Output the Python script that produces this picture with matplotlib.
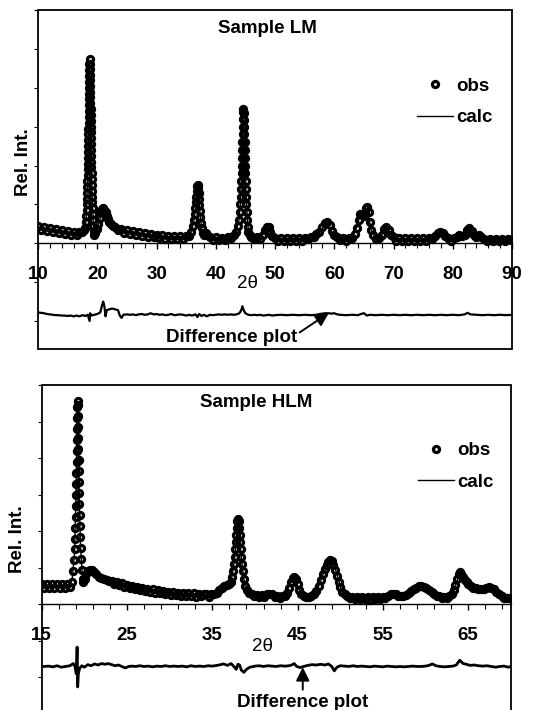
import matplotlib
matplotlib.use('Agg')
import matplotlib.pyplot as plt
from matplotlib.patches import Rectangle

plt.rcParams['font.family'] = ['Liberation Sans', 'DejaVu Sans']
plt.rcParams['font.weight'] = 'bold'

# ---------------- Sample LM ----------------
lm_xticks = [10, 20, 30, 40, 50, 60, 70, 80, 90]
lm_yticks = [-2, -1, 0, 1, 2, 3, 4, 5, 6]

lm_obs_x = [
    10.0, 10.5, 11.0, 11.5, 12.0, 12.5, 13.0, 13.5, 14.0, 14.5,
    15.0, 15.5, 16.0, 16.5, 17.0, 17.5, 17.8, 18.0, 18.1, 18.15,
    18.2, 18.24, 18.27, 18.3, 18.32, 18.34, 18.36, 18.38, 18.4, 18.42,
    18.44, 18.46, 18.48, 18.5, 18.51, 18.52, 18.54, 18.55, 18.56, 18.58,
    18.59, 18.6, 18.62, 18.63, 18.65, 18.67, 18.7, 18.73, 18.75, 18.77,
    18.79, 18.8, 18.82, 18.83, 18.85, 18.86, 18.88, 18.89, 18.9, 18.92,
    18.93, 18.95, 18.96, 18.98, 19.0, 19.02, 19.04, 19.06, 19.08, 19.1,
    19.13, 19.16, 19.2, 19.24, 19.28, 19.33, 19.4, 19.5, 19.7, 20.0,
    20.2, 20.4, 20.6, 20.8, 21.0, 21.2, 21.4, 21.6, 21.8, 22.0,
    22.3, 22.6, 23.0, 23.5, 24.0, 24.5, 25.0, 25.5, 26.0, 26.5,
    27.0, 27.5, 28.0, 28.5, 29.0, 29.5, 30.0, 30.5, 31.0, 31.5,
    32.0, 32.5, 33.0, 33.5, 34.0, 34.5, 35.0, 35.5, 35.9, 36.2,
    36.35, 36.45, 36.55, 36.62, 36.7, 36.78, 36.87, 36.95, 37.03, 37.1,
    37.17, 37.23, 37.3, 37.38, 37.47, 37.6, 37.8, 38.0, 38.3, 38.6,
    39.0, 39.5, 40.0, 40.5, 41.0, 41.5, 42.0, 42.5, 43.0, 43.4,
    43.7, 43.9, 44.05, 44.15, 44.22, 44.28, 44.33, 44.37, 44.41, 44.44,
    44.47, 44.5, 44.53, 44.56, 44.59, 44.63, 44.68, 44.73, 44.77, 44.8,
    44.83, 44.86, 44.89, 44.92, 44.95, 44.98, 45.02, 45.06, 45.1, 45.15,
    45.2, 45.28, 45.38, 45.5, 45.7, 46.0, 46.5, 47.0, 47.5, 48.0,
    48.3, 48.6, 48.9, 49.2, 49.5, 50.0, 50.5, 51.0, 51.5, 52.0,
    52.5, 53.0, 53.5, 54.0, 54.5, 55.0, 55.5, 56.0, 56.5, 57.0,
    57.5, 58.0, 58.4, 58.8, 59.2, 59.6, 60.0, 60.5, 61.0, 61.5,
    62.0, 62.5, 63.0, 63.5, 63.8, 64.1, 64.4, 64.7, 65.0, 65.2,
    65.4, 65.6, 65.8, 66.0, 66.2, 66.5, 67.0, 67.5, 68.0, 68.4,
    68.8, 69.2, 69.6, 70.0, 70.5, 71.0, 71.5, 72.0, 72.5, 73.0,
    73.5, 74.0, 74.5, 75.0, 75.5, 76.0, 76.5, 77.0, 77.5, 77.9,
    78.3, 78.7, 79.2, 79.7, 80.2, 80.7, 81.1, 81.5, 82.0, 82.4,
    82.8, 83.2, 83.6, 84.0, 84.4, 84.8, 85.3, 85.8, 86.3, 86.8,
    87.3, 87.8, 88.3, 88.8, 89.3, 89.8,
]
lm_obs_y = [
    0.45, 0.35, 0.43, 0.32, 0.39, 0.29, 0.36, 0.27, 0.34, 0.24,
    0.31, 0.22, 0.30, 0.21, 0.30, 0.28, 0.33, 0.40, 0.55, 0.70,
    0.85, 1.00, 1.15, 1.30, 1.45, 1.60, 1.75, 1.90, 2.05, 2.20,
    2.35, 2.50, 2.65, 2.80, 2.95, 3.10, 3.25, 3.40, 3.55, 3.70,
    3.85, 4.00, 4.15, 4.30, 4.45, 4.60, 4.74, 4.62, 4.48, 4.34,
    4.20, 4.05, 3.90, 3.75, 3.60, 3.45, 3.30, 3.15, 3.00, 2.85,
    2.70, 2.55, 2.40, 2.25, 2.10, 1.95, 1.80, 1.65, 1.50, 1.35,
    1.20, 1.05, 0.90, 0.75, 0.60, 0.45, 0.32, 0.22, 0.26, 0.36,
    0.50, 0.66, 0.80, 0.88, 0.90, 0.86, 0.80, 0.71, 0.62, 0.55,
    0.49, 0.44, 0.43, 0.33, 0.37, 0.27, 0.33, 0.24, 0.31, 0.22,
    0.28, 0.19, 0.26, 0.17, 0.25, 0.16, 0.22, 0.14, 0.21, 0.12,
    0.19, 0.11, 0.18, 0.10, 0.18, 0.10, 0.18, 0.18, 0.30, 0.45,
    0.60, 0.75, 0.90, 1.05, 1.20, 1.35, 1.47, 1.49, 1.42, 1.28,
    1.13, 0.98, 0.83, 0.68, 0.53, 0.38, 0.26, 0.21, 0.27, 0.20,
    0.17, 0.09, 0.15, 0.09, 0.14, 0.09, 0.16, 0.13, 0.20, 0.30,
    0.45, 0.60, 0.80, 1.00, 1.20, 1.40, 1.60, 1.80, 2.00, 2.20,
    2.40, 2.60, 2.80, 3.00, 3.20, 3.38, 3.45, 3.36, 3.18, 3.00,
    2.80, 2.60, 2.40, 2.20, 2.00, 1.80, 1.60, 1.40, 1.20, 1.00,
    0.80, 0.60, 0.42, 0.30, 0.20, 0.17, 0.10, 0.15, 0.11, 0.20,
    0.33, 0.42, 0.42, 0.30, 0.18, 0.14, 0.07, 0.14, 0.07, 0.14,
    0.06, 0.14, 0.07, 0.14, 0.07, 0.14, 0.10, 0.16, 0.17, 0.23,
    0.30, 0.42, 0.52, 0.55, 0.48, 0.32, 0.20, 0.15, 0.08, 0.13,
    0.07, 0.14, 0.14, 0.25, 0.40, 0.60, 0.76, 0.74, 0.70, 0.78,
    0.90, 0.93, 0.80, 0.55, 0.35, 0.20, 0.12, 0.14, 0.22, 0.36,
    0.42, 0.35, 0.20, 0.15, 0.07, 0.14, 0.06, 0.13, 0.07, 0.13,
    0.06, 0.13, 0.06, 0.13, 0.07, 0.13, 0.12, 0.18, 0.26, 0.29,
    0.26, 0.18, 0.14, 0.07, 0.14, 0.17, 0.21, 0.18, 0.22, 0.34,
    0.40, 0.32, 0.20, 0.16, 0.20, 0.16, 0.12, 0.05, 0.12, 0.05,
    0.12, 0.05, 0.12, 0.05, 0.12, 0.08,
]

lm_calc_x = [
    10, 12, 14, 16, 17.5, 18.0, 18.2, 18.35, 18.5, 18.6,
    18.7, 18.8, 18.9, 19.0, 19.15, 19.4, 19.8, 20.4, 21.0, 21.6,
    22.2, 23.0, 25.0, 28.0, 31.0, 34.0, 35.8, 36.3, 36.6, 36.95,
    37.25, 37.6, 38.0, 38.3, 39.0, 42.0, 43.4, 43.9, 44.2, 44.45,
    44.68, 44.9, 45.1, 45.4, 46.0, 47.5, 48.3, 48.75, 49.3, 50.0,
    56.0, 57.6, 58.7, 59.8, 61.0, 63.0, 63.9, 64.4, 65.0, 65.55,
    66.2, 67.0, 68.1, 68.8, 69.5, 71.0, 76.5, 77.9, 79.2, 80.5,
    81.1, 81.7, 82.7, 83.6, 84.3, 85.0, 88.0, 90.0,
]
lm_calc_y = [
    0.40, 0.35, 0.30, 0.26, 0.27, 0.38, 0.80, 1.60, 2.80, 3.95,
    4.70, 4.05, 3.00, 2.10, 1.15, 0.35, 0.26, 0.60, 0.88, 0.70,
    0.50, 0.40, 0.29, 0.22, 0.17, 0.14, 0.28, 0.55, 0.95, 1.48,
    0.95, 0.38, 0.21, 0.24, 0.15, 0.12, 0.28, 0.58, 1.10, 2.30,
    3.42, 2.50, 1.30, 0.45, 0.15, 0.12, 0.32, 0.42, 0.28, 0.12,
    0.13, 0.30, 0.55, 0.22, 0.11, 0.14, 0.45, 0.76, 0.70, 0.92,
    0.35, 0.13, 0.25, 0.42, 0.25, 0.11, 0.11, 0.29, 0.12, 0.13,
    0.21, 0.18, 0.40, 0.20, 0.19, 0.14, 0.09, 0.10,
]

lm_diff_x = [
    10, 10.5, 11, 11.5, 12, 12.5, 13, 13.5, 14, 14.5,
    15, 15.5, 16, 16.5, 17, 17.5, 18, 18.4, 18.6, 18.7,
    18.8, 19, 19.5, 20, 20.5, 20.8, 21, 21.2, 21.4, 21.6,
    22, 22.5, 23, 23.5, 23.8, 24.1, 24.4, 25, 25.5, 26,
    26.5, 27, 27.5, 28, 28.5, 29, 29.5, 30, 30.5, 31,
    31.5, 32, 32.5, 33, 33.5, 34, 34.5, 35, 35.5, 36,
    36.6, 36.9, 37.2, 37.6, 38, 38.5, 39, 39.5, 40, 40.5,
    41, 41.5, 42, 42.5, 43, 43.5, 44, 44.3, 44.5, 44.7,
    45, 45.5, 46, 46.5, 47, 47.5, 48, 48.5, 49, 49.5,
    50, 51, 52, 53, 54, 55, 56, 57, 57.5, 58,
    58.5, 59, 59.5, 60, 60.5, 61, 62, 63, 64, 64.5,
    65, 65.5, 66, 67, 68, 69, 70, 71, 72, 73,
    74, 75, 76, 77, 78, 79, 80, 81, 82, 82.5,
    83, 84, 85, 86, 87, 88, 89, 90,
]
lm_diff_y = [
    -1.78, -1.79, -1.80, -1.82, -1.83, -1.84, -1.85, -1.85, -1.86, -1.86,
    -1.87, -1.86, -1.88, -1.86, -1.88, -1.85, -1.87, -1.84, -1.95, -2.00,
    -1.80, -1.86, -1.84, -1.82, -1.78, -1.60, -1.50, -1.62, -1.88, -1.72,
    -1.70, -1.68, -1.70, -1.72, -1.86, -1.92, -1.84, -1.83, -1.84, -1.83,
    -1.85, -1.83, -1.82, -1.84, -1.83, -1.80, -1.83, -1.82, -1.84, -1.83,
    -1.85, -1.84, -1.82, -1.85, -1.84, -1.83, -1.84, -1.86, -1.84, -1.86,
    -1.83, -1.90, -1.82, -1.87, -1.84, -1.88, -1.84, -1.85, -1.84, -1.83,
    -1.84, -1.83, -1.84, -1.83, -1.84, -1.83, -1.80, -1.72, -1.62, -1.72,
    -1.80, -1.84, -1.85, -1.84, -1.85, -1.84, -1.86, -1.85, -1.84, -1.86,
    -1.85, -1.84, -1.85, -1.84, -1.85, -1.84, -1.85, -1.84, -1.82, -1.81,
    -1.80, -1.80, -1.81, -1.80, -1.83, -1.84, -1.85, -1.84, -1.85, -1.82,
    -1.80, -1.86, -1.84, -1.85, -1.84, -1.85, -1.84, -1.85, -1.84, -1.85,
    -1.84, -1.85, -1.84, -1.85, -1.84, -1.85, -1.84, -1.85, -1.83, -1.79,
    -1.83, -1.84, -1.85, -1.84, -1.85, -1.84, -1.85, -1.84,
]

# ---------------- Sample HLM ----------------
hlm_xticks = [15, 25, 35, 45, 55, 65]
hlm_yticks = [-3, -2, -1, 0, 1, 2, 3, 4, 5, 6]

hlm_obs_x = [
    15.0, 15.3, 15.6, 15.9, 16.2, 16.5, 16.8, 17.1, 17.4, 17.7,
    18.0, 18.3, 18.5, 18.7, 18.81, 18.87, 18.91, 18.94, 18.97, 18.99,
    19.01, 19.03, 19.06, 19.08, 19.1, 19.12, 19.14, 19.16, 19.18, 19.2,
    19.22, 19.24, 19.26, 19.28, 19.3, 19.32, 19.34, 19.36, 19.39, 19.41,
    19.44, 19.47, 19.51, 19.56, 19.62, 19.7, 19.8, 19.9, 20.05, 20.25,
    20.45, 20.65, 20.85, 21.1, 21.4, 21.7, 22.0, 22.3, 22.6, 22.9,
    23.2, 23.5, 23.8, 24.1, 24.4, 24.7, 25.0, 25.3, 25.6, 25.9,
    26.2, 26.5, 26.8, 27.1, 27.4, 27.7, 28.0, 28.3, 28.6, 28.9,
    29.2, 29.5, 29.8, 30.1, 30.4, 30.7, 31.0, 31.3, 31.6, 31.9,
    32.2, 32.5, 32.8, 33.1, 33.4, 33.7, 34.0, 34.3, 34.6, 34.9,
    35.2, 35.5, 35.8, 36.1, 36.4, 36.7, 37.0, 37.2, 37.35, 37.45,
    37.55, 37.62, 37.68, 37.74, 37.8, 37.86, 37.93, 38.0, 38.07, 38.14,
    38.2, 38.26, 38.32, 38.38, 38.45, 38.55, 38.68, 38.85, 39.05, 39.3,
    39.6, 39.9, 40.2, 40.5, 40.8, 41.1, 41.4, 41.7, 42.0, 42.3,
    42.6, 42.9, 43.2, 43.5, 43.8, 44.0, 44.2, 44.4, 44.6, 44.8,
    45.0, 45.2, 45.45, 45.7, 46.0, 46.3, 46.6, 46.9, 47.2, 47.5,
    47.75, 48.0, 48.2, 48.4, 48.6, 48.8, 49.0, 49.2, 49.4, 49.6,
    49.8, 50.0, 50.25, 50.5, 50.8, 51.1, 51.4, 51.7, 52.0, 52.3,
    52.6, 52.9, 53.2, 53.5, 53.8, 54.1, 54.4, 54.7, 55.0, 55.3,
    55.6, 55.9, 56.2, 56.5, 56.8, 57.1, 57.4, 57.7, 58.0, 58.3,
    58.6, 58.9, 59.2, 59.5, 59.8, 60.1, 60.4, 60.7, 61.0, 61.3,
    61.6, 61.9, 62.2, 62.5, 62.8, 63.1, 63.3, 63.5, 63.7, 63.9,
    64.05, 64.2, 64.4, 64.6, 64.8, 65.0, 65.3, 65.6, 65.9, 66.2,
    66.5, 66.8, 67.1, 67.4, 67.7, 68.0, 68.3, 68.6, 68.9, 69.2,
    69.5, 69.8,
]
hlm_obs_y = [
    0.56, 0.45, 0.56, 0.46, 0.55, 0.44, 0.55, 0.45, 0.56, 0.45,
    0.55, 0.48, 0.60, 0.90, 1.20, 1.50, 1.80, 2.10, 2.40, 2.70,
    3.00, 3.30, 3.60, 3.90, 4.20, 4.50, 4.80, 5.10, 5.40, 5.57,
    5.45, 5.15, 4.85, 4.55, 4.25, 3.95, 3.65, 3.35, 3.05, 2.75,
    2.45, 2.15, 1.85, 1.55, 1.25, 0.95, 0.70, 0.60, 0.70, 0.82,
    0.92, 0.95, 0.93, 0.88, 0.82, 0.76, 0.72, 0.68, 0.66, 0.63,
    0.65, 0.55, 0.62, 0.52, 0.57, 0.48, 0.53, 0.44, 0.51, 0.42,
    0.47, 0.39, 0.46, 0.37, 0.42, 0.34, 0.41, 0.32, 0.38, 0.30,
    0.37, 0.28, 0.35, 0.26, 0.33, 0.25, 0.32, 0.24, 0.31, 0.23,
    0.30, 0.22, 0.30, 0.21, 0.29, 0.22, 0.27, 0.29, 0.21, 0.29,
    0.27, 0.30, 0.38, 0.46, 0.50, 0.52, 0.55, 0.60, 0.75, 0.90,
    1.10, 1.30, 1.50, 1.70, 1.90, 2.10, 2.28, 2.34, 2.28, 2.10,
    1.90, 1.70, 1.50, 1.30, 1.10, 0.90, 0.70, 0.50, 0.38, 0.30,
    0.28, 0.22, 0.26, 0.19, 0.26, 0.19, 0.27, 0.27, 0.27, 0.20,
    0.24, 0.17, 0.24, 0.24, 0.32, 0.45, 0.60, 0.72, 0.76, 0.70,
    0.55, 0.40, 0.28, 0.22, 0.20, 0.20, 0.22, 0.27, 0.36, 0.50,
    0.66, 0.82, 0.96, 1.08, 1.17, 1.22, 1.18, 1.08, 0.94, 0.78,
    0.62, 0.48, 0.35, 0.27, 0.24, 0.18, 0.20, 0.15, 0.19, 0.14,
    0.19, 0.14, 0.19, 0.13, 0.20, 0.14, 0.20, 0.14, 0.21, 0.16,
    0.24, 0.27, 0.29, 0.27, 0.24, 0.22, 0.23, 0.26, 0.30, 0.36,
    0.42, 0.46, 0.49, 0.49, 0.47, 0.44, 0.40, 0.33, 0.27, 0.22,
    0.22, 0.16, 0.21, 0.16, 0.22, 0.28, 0.38, 0.52, 0.68, 0.82,
    0.88, 0.84, 0.75, 0.66, 0.60, 0.55, 0.50, 0.46, 0.44, 0.43,
    0.42, 0.43, 0.46, 0.47, 0.45, 0.41, 0.34, 0.27, 0.22, 0.18,
    0.16, 0.17,
]

hlm_calc_x = [
    15, 17, 18.3, 18.6, 18.85, 19.0, 19.1, 19.2, 19.3, 19.4,
    19.55, 19.75, 19.95, 20.6, 21.5, 23, 25, 28, 31, 34,
    35.5, 36.5, 37.2, 37.6, 37.8, 38.0, 38.2, 38.45, 38.8, 39.5,
    41, 43.5, 44.1, 44.6, 45.2, 46.2, 47.4, 48.2, 48.8, 49.4,
    50.2, 51, 55, 56.2, 57.5, 59.4, 61.5, 63.2, 63.7, 64.05,
    64.6, 65.5, 66.6, 67.4, 68.3, 69.3, 70,
]
hlm_calc_y = [
    0.50, 0.50, 0.52, 0.75, 1.40, 2.80, 4.30, 5.50, 4.20, 2.90,
    1.60, 0.85, 0.62, 0.94, 0.80, 0.62, 0.49, 0.37, 0.29, 0.25,
    0.28, 0.50, 0.62, 1.20, 1.80, 2.30, 1.85, 1.15, 0.52, 0.26,
    0.23, 0.23, 0.55, 0.75, 0.40, 0.20, 0.45, 0.95, 1.20, 0.98,
    0.35, 0.20, 0.18, 0.28, 0.23, 0.48, 0.21, 0.30, 0.65, 0.86,
    0.66, 0.47, 0.42, 0.47, 0.34, 0.18, 0.16,
]

hlm_diff_x = [
    15.3, 15.8, 16.3, 16.8, 17.3, 17.8, 18.3, 18.7, 18.9, 19.05,
    19.15, 19.22, 19.3, 19.45, 19.7, 20.0, 20.4, 20.8, 21.2, 21.6,
    22.0, 22.4, 22.8, 23.2, 23.6, 24.0, 24.4, 24.8, 25.2, 25.6,
    26.0, 26.5, 27.0, 27.5, 28.0, 28.5, 29.0, 29.5, 30.0, 30.5,
    31.0, 31.5, 32.0, 32.5, 33.0, 33.5, 34.0, 34.5, 35.0, 35.5,
    35.8, 36.3, 36.8, 37.2, 37.6, 37.8, 38.0, 38.2, 38.4, 38.7,
    39.0, 39.4, 40.0, 40.5, 41.0, 41.5, 42.0, 42.5, 43.0, 43.5,
    44.0, 44.3, 44.6, 44.9, 45.3, 45.7, 46.2, 46.7, 47.2, 47.7,
    48.2, 48.6, 49.0, 49.3, 49.6, 50.0, 50.5, 51.0, 51.5, 52.0,
    52.5, 53.0, 53.5, 54.0, 54.5, 55.0, 55.5, 56.0, 56.5, 57.0,
    57.5, 58.0, 58.5, 59.0, 59.5, 60.0, 60.4, 60.8, 61.2, 61.7,
    62.2, 62.7, 63.2, 63.6, 64.0, 64.4, 64.8, 65.2, 65.7, 66.2,
    66.7, 67.2, 67.7, 68.2, 68.7, 69.2, 69.7, 70.0,
]
hlm_diff_y = [
    -1.70, -1.69, -1.71, -1.68, -1.72, -1.70, -1.68, -1.62, -1.70, -1.90,
    -1.17, -2.26, -1.90, -1.75, -1.68, -1.72, -1.65, -1.68, -1.63, -1.66,
    -1.62, -1.64, -1.62, -1.65, -1.68, -1.66, -1.70, -1.74, -1.70, -1.69,
    -1.70, -1.68, -1.70, -1.69, -1.71, -1.69, -1.70, -1.68, -1.70, -1.69,
    -1.70, -1.69, -1.71, -1.68, -1.70, -1.69, -1.70, -1.68, -1.69, -1.67,
    -1.66, -1.63, -1.67, -1.62, -1.72, -1.78, -1.64, -1.66, -1.80, -1.86,
    -1.78, -1.72, -1.69, -1.68, -1.70, -1.68, -1.69, -1.70, -1.68, -1.69,
    -1.68, -1.66, -1.62, -1.70, -1.73, -1.70, -1.67, -1.65, -1.66, -1.64,
    -1.66, -1.63, -1.70, -1.82, -1.72, -1.68, -1.69, -1.70, -1.68, -1.70,
    -1.69, -1.70, -1.71, -1.69, -1.70, -1.71, -1.69, -1.70, -1.71, -1.70,
    -1.71, -1.70, -1.69, -1.70, -1.70, -1.69, -1.67, -1.63, -1.68, -1.70,
    -1.71, -1.70, -1.69, -1.66, -1.53, -1.62, -1.64, -1.67, -1.66, -1.68,
    -1.69, -1.68, -1.70, -1.72, -1.70, -1.69, -1.72, -1.70,
]


def draw_panel(ax, obs_x, obs_y, calc_x, calc_y, diff_x, diff_y,
               xlim, ylim, xticks, minor_ticks, yticks, diff_lw):
    # thick-ringed open circles, as in the original scan
    ax.plot(obs_x, obs_y, 'o', ms=4.4, mfc='none', mec='black', mew=2.3,
            label='obs', zorder=3)
    ax.plot(calc_x, calc_y, '-', color='black', lw=1.0, label='calc', zorder=4)
    ax.plot(diff_x, diff_y, '-', color='black', lw=diff_lw, zorder=3)

    ax.set_xlim(*xlim)
    ax.set_ylim(*ylim)
    for s in ['left', 'right', 'top']:
        ax.spines[s].set_visible(False)
    ax.spines['bottom'].set_position(('data', 0))
    ax.spines['bottom'].set_linewidth(1.0)
    ax.add_patch(Rectangle((0, 0), 1, 1, transform=ax.transAxes, fill=False,
                           lw=1.3, edgecolor='black', clip_on=False, zorder=5))

    ax.set_xticks(xticks)
    ax.set_xticks(minor_ticks, minor=True)
    ax.tick_params(axis='x', which='major', direction='out', length=4.5,
                   width=1, pad=12, labelsize=13.5)
    ax.tick_params(axis='x', which='minor', direction='out', length=3.5, width=0.8)
    ax.set_yticks(yticks)
    ax.tick_params(axis='y', which='major', direction='out', length=3,
                   width=0.8, labelleft=False)
    ax.patch.set_visible(False)


fig = plt.figure(figsize=(5.44, 7.10), dpi=100)

# top panel
ax1 = fig.add_axes([0.0699, 0.50845, 0.8713, 0.47747])
draw_panel(ax1, lm_obs_x, lm_obs_y, lm_calc_x, lm_calc_y, lm_diff_x, lm_diff_y,
           (10, 90), (-2.72, 6), lm_xticks, list(range(12, 90, 2)), lm_yticks, 1.6)
ax1.text(48.7, 5.52, 'Sample LM', ha='center', va='center', fontsize=13.5)
ax1.text(45.3, -1.04, '2\u03b8', ha='center', va='center', fontsize=13.5,
         fontweight='normal')
ax1.annotate('Difference plot', xy=(59.1, -1.79), xytext=(42.6, -2.43),
             ha='center', va='center', fontsize=13.5,
             arrowprops=dict(arrowstyle='-|>,head_length=0.6,head_width=0.3',
                             color='black', lw=1.4, relpos=(1.0, 0.7),
                             shrinkA=0, shrinkB=0))
ax1.legend(loc='upper left', bbox_to_anchor=(0.80, 0.80), frameon=False,
           fontsize=13.5, numpoints=1, handlelength=1.9, handletextpad=0.2,
           labelspacing=0.75, borderpad=0, borderaxespad=0)

# bottom panel
ax2 = fig.add_axes([0.07665, -0.00563, 0.8625, 0.46338])
draw_panel(ax2, hlm_obs_x, hlm_obs_y, hlm_calc_x, hlm_calc_y, hlm_diff_x, hlm_diff_y,
           (15, 70), (-3, 6), hlm_xticks, list(range(17, 70, 2)), hlm_yticks, 2.0)
ax2.text(40.2, 5.52, 'Sample HLM', ha='center', va='center', fontsize=13.5)
ax2.text(40.9, -1.14, '2\u03b8', ha='center', va='center', fontsize=13.5,
         fontweight='normal')
ax2.annotate('Difference plot', xy=(45.6, -1.72), xytext=(45.6, -2.68),
             ha='center', va='center', fontsize=13.5,
             arrowprops=dict(arrowstyle='-|>,head_length=0.6,head_width=0.3',
                             color='black', lw=1.4, relpos=(0.5, 1.0),
                             shrinkA=1, shrinkB=0))
ax2.legend(loc='upper left', bbox_to_anchor=(0.802, 0.826), frameon=False,
           fontsize=13.5, numpoints=1, handlelength=1.9, handletextpad=0.2,
           labelspacing=0.75, borderpad=0, borderaxespad=0)

fig.text(24 / 544, 1 - 162 / 710, 'Rel. Int.', rotation=90, ha='center',
         va='center', fontsize=13.5)
fig.text(18 / 544, 1 - 539 / 710, 'Rel. Int.', rotation=90, ha='center',
         va='center', fontsize=13.5)

fig.savefig('out.png', dpi=100)
